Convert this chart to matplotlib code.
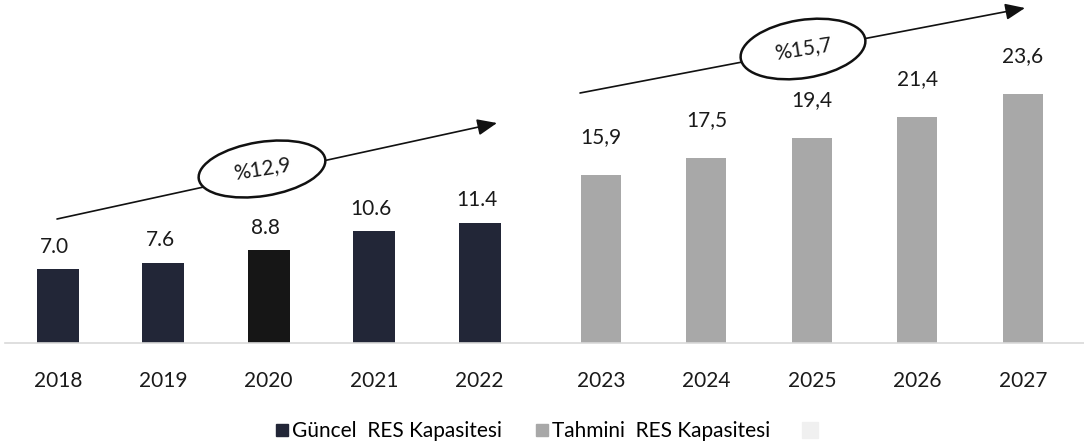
import matplotlib.pyplot as plt
from matplotlib.patches import Ellipse
from matplotlib.lines import Line2D

# data
actual_years = ['2018', '2019', '2020', '2021', '2022']
actual_values = [7.0, 7.6, 8.8, 10.6, 11.4]
actual_labels = ['7.0', '7.6', '8.8', '10.6', '11.4']

forecast_years = ['2023', '2024', '2025', '2026', '2027']
forecast_values = [15.9, 17.5, 19.4, 21.4, 23.6]
forecast_labels = ['15,9', '17,5', '19,4', '21,4', '23,6']

growth_labels = ['%12,9', '%15,7']
legend_labels = ['Güncel  RES Kapasitesi', 'Tahmini  RES Kapasitesi']

navy = '#222637'
actual_colors = [navy, navy, '#161616', navy, navy]
gray = '#a8a8a8'

plt.rcParams['font.family'] = ['Lato', 'DejaVu Sans']

W, H = 1084, 445
fig = plt.figure(figsize=(W / 100, H / 100), dpi=100)
ax = fig.add_axes([5 / W, (H - 343) / H, 1079 / W, 343 / H])

x_act = list(range(len(actual_values)))
x_fc = [i + len(actual_values) + 0.15 for i in range(len(forecast_values))]

ax.bar(x_act, actual_values, width=0.4, color=actual_colors)
ax.bar(x_fc, forecast_values, width=0.38, color=gray)

for x, v, lab in zip(x_act, actual_values, actual_labels):
    ax.annotate(lab, (x - 0.03, v), xytext=(0, 9), textcoords='offset points',
                ha='center', va='bottom', fontsize=15, color='#1a1a1a')
for x, v, lab in zip(x_fc, forecast_values, forecast_labels):
    ax.annotate(lab, (x, v), xytext=(0, 20), textcoords='offset points',
                ha='center', va='bottom', fontsize=15, color='#1a1a1a')

ax.set_xlim(-0.5, 9.73)
ax.set_ylim(0, 32.5)
ax.set_xticks(x_act + x_fc)
ax.set_xticklabels(actual_years + forecast_years, fontsize=15, color='#1a1a1a')
ax.tick_params(axis='x', length=0, pad=20)
ax.set_yticks([])
for s in ['top', 'right', 'left']:
    ax.spines[s].set_visible(False)
ax.spines['bottom'].set_color('#d9d9d9')
ax.spines['bottom'].set_linewidth(1.2)


# growth arrows with ellipses, drawn in pixel space (inches)
def px(x, y):
    return (x / 100, (H - y) / 100)


arrows = [((57, 219), (497, 123), (262, 169), 128, 54, 9),
          ((580, 93), (1025, 8), (803, 49), 126, 58, 9)]
for (start, end, centre, w, h, ang), lab in zip(arrows, growth_labels):
    ax.annotate('', xy=px(*end), xytext=px(*start),
                xycoords=fig.dpi_scale_trans, textcoords=fig.dpi_scale_trans,
                arrowprops=dict(arrowstyle='-|>,head_length=1.2,head_width=0.5',
                                color='#111111', lw=1.2, shrinkA=0, shrinkB=0),
                annotation_clip=False)
    e = Ellipse(px(*centre), w / 100, h / 100, angle=ang, facecolor='white',
                edgecolor='#111111', lw=1.8, transform=fig.dpi_scale_trans, zorder=5)
    fig.add_artist(e)
    fig.text(centre[0] / W, (H - centre[1]) / H, lab, ha='center', va='center',
             rotation=ang, fontsize=15, color='#1a1a1a', zorder=6)

handles = [Line2D([], [], marker='s', color=navy, ls='', markersize=9),
           Line2D([], [], marker='s', color=gray, ls='', markersize=9),
           Line2D([], [], marker='s', color='#f0f0f0', ls='', markersize=11)]
fig.legend(handles, legend_labels + [''], loc='center', bbox_to_anchor=(0.505, 0.031),
           ncol=3, frameon=False, fontsize=15, handletextpad=0.1,
           columnspacing=1.6, handlelength=0.7)

fig.savefig('out.png', dpi=100)
